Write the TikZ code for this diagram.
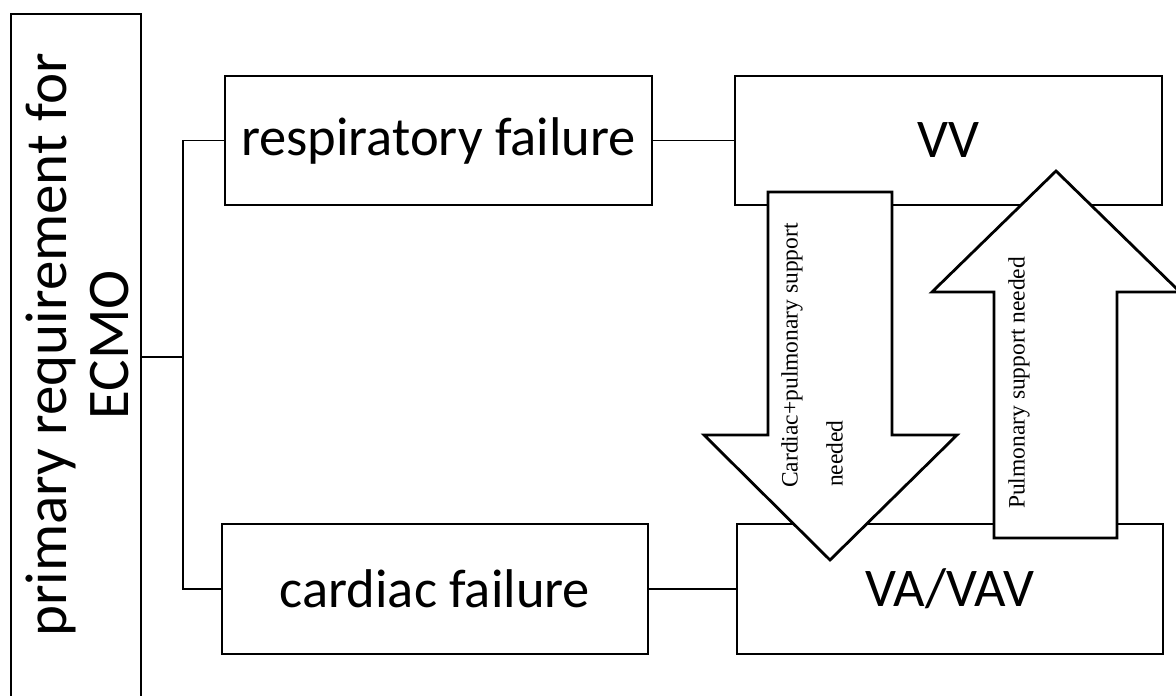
\documentclass[tikz,border=0pt]{standalone}
\usepackage{fontspec}
\setmainfont{Carlito}
\newfontfamily\arrowfont{Liberation Serif}
\begin{document}
\begin{tikzpicture}[x=1pt,y=-1pt,
  box/.style={draw=black, line width=2.8pt, fill=white, inner sep=0pt},
  big/.style={font=\fontsize{54.5}{62}\selectfont},
  conn/.style={draw=black, line width=1.8pt},
  bigarrow/.style={draw=black, line width=2.8pt, fill=white, line join=miter},
  atext/.style={font=\arrowfont\fontsize{23.5}{28}\selectfont, inner sep=0pt}]
\useasboundingbox (0,0) rectangle (1176,696);
\clip (0,0) rectangle (1176,696);
% boxes
\node[box, minimum width=130pt, minimum height=688pt] (ecmo) at (76,358) {};
\node[font=\fontsize{59}{62}\selectfont, rotate=90, align=center] (ecmotext) at (77,345) {primary requirement for\\ECMO};
\node[box, big, minimum width=427pt, minimum height=129pt] (resp) at (438.5,140.5) {respiratory failure};
\node[box, big, minimum width=426pt, minimum height=130pt] (card) at (435,589) {cardiac failure};
\node[box, big, minimum width=427pt, minimum height=129pt] (vv) at (948.5,140.5) {VV};
\node[box, big, minimum width=426pt, minimum height=130pt] (va) at (950,589) {VA/VAV};
% connectors
\coordinate (j) at (183,357);
\draw[conn] (ecmo.east |- j) -- (j);
\draw[conn] (resp.west) -| (j) |- (card.west);
\draw[conn] (resp.east) -- (vv.west);
\draw[conn] (card.east) -- (va.west);
% block arrows
\draw[bigarrow] (768,192) -- (892,192) -- (892,435) -- (957,435) -- (830,560) -- (704,435) -- (768,435) -- cycle;
\draw[bigarrow] (994,538) -- (1117,538) -- (1117,292) -- (1180,292) -- (1056,171) -- (932,292) -- (994,292) -- cycle;
\node[atext, rotate=90, align=left, anchor=north west] (downtext) at (781,488) {Cardiac+pulmonary support\\[17pt]\hspace*{1pt}needed};
\node[atext, rotate=90] (uptext) at (1019,383) {Pulmonary support needed};
\end{tikzpicture}
\end{document}
